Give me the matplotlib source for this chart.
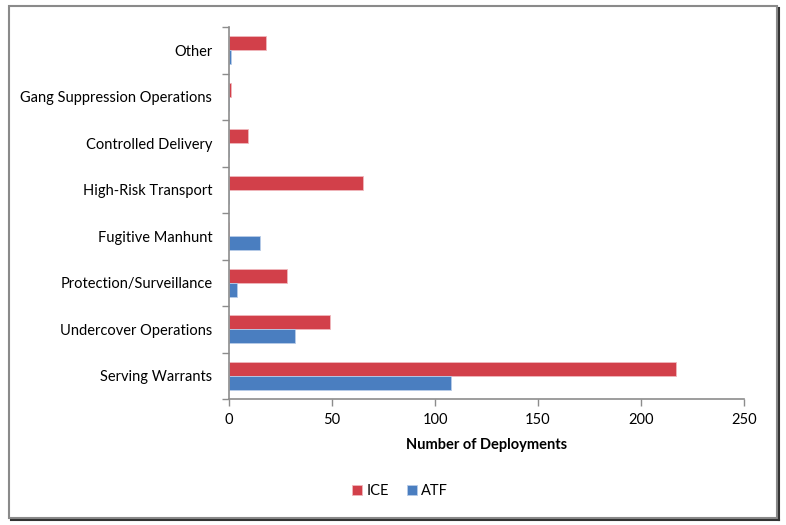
import matplotlib.pyplot as plt
from matplotlib.patches import Rectangle
import numpy as np

# categories, bottom to top as in the chart
categories = ["Serving Warrants", "Undercover Operations", "Protection/Surveillance",
              "Fugitive Manhunt", "High-Risk Transport", "Controlled Delivery",
              "Gang Suppression Operations", "Other"]
ice = [217, 49, 28, 0, 65, 9, 1, 18]
atf = [108, 32, 4, 15, 0, 0, 0, 1]
x_ticks = [0, 50, 100, 150, 200, 250]

red = "#D2404A"
blue = "#4A7EC0"
axis_gray = "#8C8C8C"

plt.rcParams['font.family'] = ['Lato', 'DejaVu Sans']

fig = plt.figure(figsize=(7.86, 5.25), dpi=100)
ax = fig.add_axes([229 / 786, 1 - 399 / 525, (744 - 229) / 786, (399 - 27) / 525])

y = np.arange(len(categories))
h = 0.30
ax.barh(y + h / 2, ice, height=h, color=red, edgecolor="#F0B8BC", linewidth=0.6, label="ICE")
ax.barh(y - h / 2, atf, height=h, color=blue, edgecolor="#B8CCE8", linewidth=0.6, label="ATF")

ax.set_xlim(0, 250)
ax.set_ylim(-0.5, len(categories) - 0.5)
ax.set_xticks(x_ticks)
ax.set_yticks(y)
ax.set_yticklabels(categories, fontsize=10.5)
ax.tick_params(axis='y', length=0, pad=12)
ax.set_yticks(np.arange(-0.5, len(categories), 1), minor=True)
ax.tick_params(axis='y', which='minor', length=5, color=axis_gray, width=1)
ax.tick_params(axis='x', length=5, color=axis_gray, width=1, labelsize=10.5, pad=5)

for s in ['top', 'right']:
    ax.spines[s].set_visible(False)
for s in ['left', 'bottom']:
    ax.spines[s].set_color(axis_gray)
    ax.spines[s].set_linewidth(1.2)

ax.set_xlabel("Number of Deployments", fontsize=10.5, fontweight='bold', labelpad=8)

fig.legend(loc='center', bbox_to_anchor=(400 / 786, 1 - 491 / 525), ncol=2,
           frameon=False, fontsize=10.5, handlelength=0.7, handleheight=0.7,
           handletextpad=0.3, columnspacing=1.2)

# outer frame with shadow
fig.patches.append(Rectangle((9 / 786, 1 - 518 / 525), (777 - 9) / 786, (518 - 6) / 525,
                             transform=fig.transFigure, fill=False,
                             edgecolor="#8A8A8A", linewidth=1.5))
fig.add_artist(plt.Line2D([779 / 786, 779 / 786], [1 - 520 / 525, 1 - 8 / 525],
                          transform=fig.transFigure, color="#333333", linewidth=1.5))
fig.add_artist(plt.Line2D([11 / 786, 779 / 786], [1 - 520 / 525, 1 - 520 / 525],
                          transform=fig.transFigure, color="#333333", linewidth=1.5))

fig.savefig("out.png", dpi=100)
